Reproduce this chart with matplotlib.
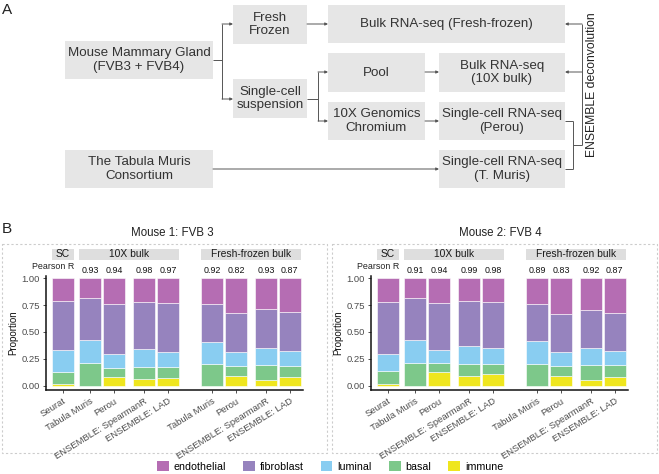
import matplotlib
matplotlib.use("Agg")
import matplotlib.pyplot as plt
from matplotlib.patches import Rectangle, Patch
import numpy as np

plt.rcParams['font.family'] = ['Liberation Sans', 'DejaVu Sans']

# ---------------- data ----------------
cell_types = ['endothelial', 'fibroblast', 'luminal', 'basal', 'immune']
cell_colors = ['#b56db3', '#9683be', '#89cdf1', '#7dc88a', '#efe61e']

methods = ['Seurat', 'Tabula Muris', 'Perou', 'ENSEMBLE: SpearmanR', 'ENSEMBLE: LAD',
           'Tabula Muris', 'Perou', 'ENSEMBLE: SpearmanR', 'ENSEMBLE: LAD']

# mouse 1 (FVB 3) fractions per bar
m1_immune = [0.012, 0.000, 0.080, 0.059, 0.071, 0.000, 0.093, 0.053, 0.080]
m1_basal = [0.118, 0.211, 0.084, 0.117, 0.099, 0.201, 0.090, 0.139, 0.106]
m1_luminal = [0.198, 0.216, 0.130, 0.161, 0.146, 0.205, 0.130, 0.158, 0.139]
m1_fibroblast = [0.458, 0.390, 0.465, 0.443, 0.455, 0.356, 0.359, 0.362, 0.362]
m1_endothelial = [0.214, 0.183, 0.241, 0.220, 0.229, 0.238, 0.328, 0.288, 0.313]
m1_pearson = ['0.93', '0.94', '0.98', '0.97', '0.92', '0.82', '0.93', '0.87']

# mouse 2 (FVB 4)
m2_immune = [0.018, 0.000, 0.129, 0.086, 0.105, 0.000, 0.092, 0.055, 0.080]
m2_basal = [0.117, 0.209, 0.080, 0.120, 0.101, 0.203, 0.090, 0.136, 0.108]
m2_luminal = [0.157, 0.219, 0.126, 0.160, 0.148, 0.209, 0.129, 0.163, 0.138]
m2_fibroblast = [0.486, 0.387, 0.437, 0.425, 0.428, 0.345, 0.354, 0.351, 0.354]
m2_endothelial = [0.222, 0.185, 0.228, 0.209, 0.218, 0.243, 0.335, 0.295, 0.320]
m2_pearson = ['0.91', '0.94', '0.99', '0.98', '0.89', '0.83', '0.92', '0.87']

W, H = 659, 474
fig = plt.figure(figsize=(W / 100, H / 100), dpi=100)

# overlay in pixel coords for panel A and frames
ov = fig.add_axes([0, 0, 1, 1])
ov.set_xlim(0, W)
ov.set_ylim(H, 0)
ov.axis('off')

box_fc = '#e6e6e6'
txt_c = '#333333'
line_c = '#555555'

boxes = [
    ('Mouse Mammary Gland\n(FVB3 + FVB4)', 65, 41, 148, 38),
    ('Fresh\nFrozen', 233, 5, 74, 39),
    ('Single-cell\nsuspension', 233, 79, 74, 39),
    ('The Tabula Muris\nConsortium', 65, 150, 148, 38),
    ('Bulk RNA-seq (Fresh-frozen)', 328, 5, 237, 38),
    ('Pool', 328, 53, 97, 39),
    ('Bulk RNA-seq\n(10X bulk)', 439, 53, 126, 39),
    ('10X Genomics\nChromium', 328, 102, 97, 38),
    ('Single-cell RNA-seq\n(Perou)', 439, 102, 126, 38),
    ('Single-cell RNA-seq\n(T. Muris)', 439, 150, 126, 38),
]
for label, x, y, w, h in boxes:
    ov.add_patch(Rectangle((x, y), w, h, facecolor=box_fc, edgecolor='none'))
    ov.text(x + w / 2, y + h / 2, label, ha='center', va='center',
            fontsize=9.6, color=txt_c, linespacing=1.15)

def seg(x1, y1, x2, y2):
    ov.plot([x1, x2], [y1, y2], color=line_c, lw=0.7, solid_capstyle='butt')

def arr(x1, y1, x2, y2):
    ov.annotate('', xy=(x2, y2), xytext=(x1, y1),
                arrowprops=dict(arrowstyle='-|>', color=line_c, lw=0.7,
                                mutation_scale=4, shrinkA=0, shrinkB=0))

seg(213, 60, 222, 60)
seg(222, 24, 222, 99)
arr(222, 24, 233, 24)
arr(222, 99, 233, 99)
arr(307, 24, 328, 24)
seg(307, 99, 318, 99)
seg(318, 72, 318, 121)
arr(318, 72, 328, 72)
arr(318, 121, 328, 121)
arr(425, 72, 439, 72)
arr(425, 121, 439, 121)
arr(213, 169, 439, 169)
seg(565, 121, 573, 121)
seg(565, 169, 573, 169)
seg(573, 121, 573, 169)
seg(573, 145, 582, 145)
seg(582, 24, 582, 145)
arr(582, 24, 565, 24)
arr(582, 72, 565, 72)
ov.text(592, 85, 'ENSEMBLE deconvolution', rotation=90, ha='center', va='center',
        fontsize=8.7, color='#222222')

ov.text(2, 3, 'A', ha='left', va='top', fontsize=11, color='#222222')
ov.text(2, 222, 'B', ha='left', va='top', fontsize=11, color='#222222')

# dashed frames
for x0 in (2, 332):
    ov.add_patch(Rectangle((x0, 244), 325, 209, facecolor='none', edgecolor='#cccccc',
                           lw=0.8, linestyle=(0, (2, 2))))

ov.text(172, 233, 'Mouse 1: FVB 3', ha='center', va='center', fontsize=8.3, color='#222222')
ov.text(500, 233, 'Mouse 2: FVB 4', ha='center', va='center', fontsize=8.3, color='#222222')

# ---------------- bar panels ----------------
steps = [0, 1.15, 1, 1.25, 1, 1.85, 1, 1.25, 1]
xpos = np.cumsum(steps)
bw = 0.92

def px_rect(x0, y0, x1, y1):
    return [x0 / W, 1 - y1 / H, (x1 - x0) / W, (y1 - y0) / H]

panels = [
    (46, [m1_immune, m1_basal, m1_luminal, m1_fibroblast, m1_endothelial], m1_pearson),
    (371, [m2_immune, m2_basal, m2_luminal, m2_fibroblast, m2_endothelial], m2_pearson),
]
stack_colors = cell_colors[::-1]

for x0, stack, pearson in panels:
    ax = fig.add_axes(px_rect(x0, 276, x0 + 257, 390))
    bottom = np.zeros(len(methods))
    for vals, col in zip(stack, stack_colors):
        vals = np.array(vals)
        ax.bar(xpos, vals, bw, bottom=bottom, color=col, edgecolor='white', linewidth=0.4)
        bottom += vals
    ax.set_xlim(-0.71, 10.05)
    ax.set_ylim(-0.04, 1.02)
    ax.set_yticks([0, 0.25, 0.5, 0.75, 1.0])
    ax.set_yticklabels(['0.00', '0.25', '0.50', '0.75', '1.00'])
    ax.set_xticks(xpos)
    ax.set_xticklabels(methods, rotation=32, ha='right', va='top', rotation_mode='anchor')
    ax.tick_params(axis='both', labelsize=6.8, labelcolor='#4d4d4d', length=2.5,
                   width=0.6, color='#333333', pad=2)
    for s in ('top', 'right'):
        ax.spines[s].set_visible(False)
    for s in ('left', 'bottom'):
        ax.spines[s].set_linewidth(1.1)
        ax.spines[s].set_color('#111111')
    ax.set_ylabel('Proportion', fontsize=7, color='#111111', labelpad=2)

    # strips
    tr = ax.get_xaxis_transform()
    strips = [('SC', 0, 0), ('10X bulk', 1, 4), ('Fresh-frozen bulk', 5, 8)]
    for lab, i0, i1 in strips:
        xl = xpos[i0] - bw / 2
        xr = xpos[i1] + bw / 2
        ax.add_patch(Rectangle((xl, 1.14), xr - xl, 0.1, transform=tr,
                               facecolor='#dedede', edgecolor='none', clip_on=False))
        ax.text((xl + xr) / 2, 1.19, lab, transform=tr, ha='center', va='center',
                fontsize=7.4, color='#1a1a1a')
    ax.text(xpos[0] + bw / 2, 1.08, 'Pearson R', transform=tr, ha='right', va='center',
            fontsize=6.4, color='#222222')
    for xp, r in zip(xpos[1:], pearson):
        ax.text(xp, 1.05, r, transform=tr, ha='center', va='center',
                fontsize=6.4, color='#111111')

handles = [Patch(facecolor=c, edgecolor='none', label=l) for l, c in zip(cell_types, cell_colors)]
fig.legend(handles=handles, loc='center', bbox_to_anchor=(330 / W, 1 - 466.5 / H), ncol=5,
           frameon=False, fontsize=7.7, handlelength=1.1, handleheight=1.1,
           handletextpad=0.45, columnspacing=1.6, borderaxespad=0)

fig.savefig('out.png', dpi=100)
